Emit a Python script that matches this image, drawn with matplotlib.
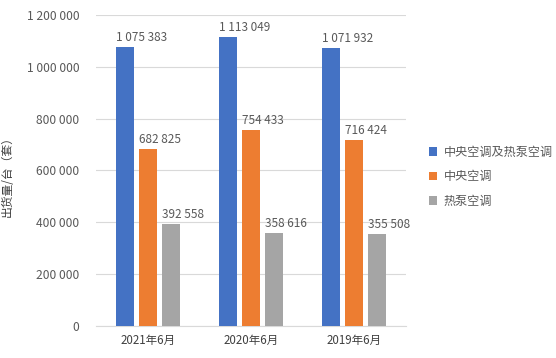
import numpy as np
import matplotlib.pyplot as plt
from matplotlib.ticker import FuncFormatter

plt.rcParams['font.family'] = ['Noto Sans CJK SC', 'DejaVu Sans']

categories = ['2021年6月', '2020年6月', '2019年6月']
series_names = ['中央空调及热泵空调', '中央空调', '热泵空调']
total = [1075383, 1113049, 1071932]
central = [682825, 754433, 716424]
heatpump = [392558, 358616, 355508]
colors = ['#4472C4', '#ED7D31', '#A5A5A5']

fig = plt.figure(figsize=(5.56, 3.58), dpi=100)
ax = fig.add_axes([0.1727, 0.0894, 0.557, 0.869])

x = np.arange(len(categories))
w = 0.174
step = 0.222
txt = '#595959'
for i, (vals, name) in enumerate(zip([total, central, heatpump], series_names)):
    pos = x + (i - 1) * step
    ax.bar(pos, vals, w, color=colors[i], label=name, zorder=3)
    for p, v in zip(pos, vals):
        s = f'{v:,}'.replace(',', ' ')
        ax.text(p - w / 2, v + 12000, s, ha='left', va='bottom', fontsize=8.5, color=txt)

ax.set_xlim(-0.5, 2.5)
ax.set_ylim(0, 1200000)
ax.set_yticks(np.arange(0, 1200001, 200000))
ax.yaxis.set_major_formatter(FuncFormatter(lambda v, p: f'{int(v):,}'.replace(',', ' ')))
ax.set_xticks(x)
ax.set_xticklabels(categories)
ax.grid(axis='y', color='#D9D9D9', linewidth=0.8, zorder=0)
for s in ['top', 'right', 'left']:
    ax.spines[s].set_visible(False)
ax.spines['bottom'].set_color('#D9D9D9')
ax.tick_params(axis='y', length=0, labelsize=8.7, colors=txt, pad=12)
ax.tick_params(axis='x', length=0, labelsize=8.3, colors='#404040', pad=6)
ax.set_ylabel('出货量/台（套）', fontsize=8.5, color='#404040')
ax.yaxis.set_label_coords(-0.265, 0.49)

fig.legend(loc='center left', bbox_to_anchor=(0.752, 0.506), frameon=False,
           fontsize=8.7, labelcolor=txt, handlelength=0.7, handleheight=0.7,
           handletextpad=0.5, labelspacing=0.95)

fig.savefig('out.png', dpi=100)
